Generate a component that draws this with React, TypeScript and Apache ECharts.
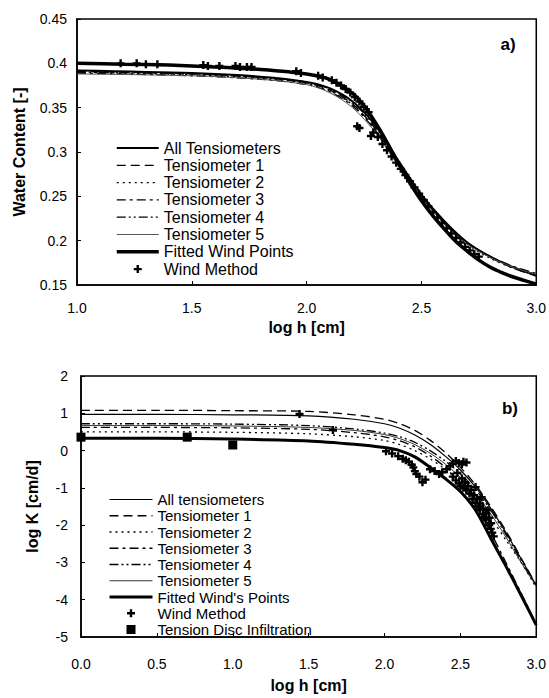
import React, { useEffect, useRef } from "react";
import * as echarts from "echarts";

const FONT = "'Liberation Sans', Arial, sans-serif";

// ---------- Panel a) water content vs log h ----------
const thetaX = [1.0, 1.5, 1.8, 2.0, 2.1, 2.2, 2.3, 2.4, 2.5, 2.6, 2.7, 2.8, 2.9, 3.0];
const thetaAll = [0.392, 0.389, 0.385, 0.379, 0.372, 0.357, 0.33, 0.29, 0.252, 0.222, 0.198, 0.182, 0.17, 0.161];
const thetaT1 = [0.391, 0.388, 0.384, 0.378, 0.37, 0.354, 0.326, 0.287, 0.25, 0.22, 0.197, 0.181, 0.169, 0.16];
const thetaT2 = [0.39, 0.387, 0.383, 0.377, 0.369, 0.353, 0.325, 0.286, 0.249, 0.219, 0.196, 0.18, 0.169, 0.161];
const thetaT3 = [0.389, 0.386, 0.382, 0.376, 0.368, 0.352, 0.324, 0.285, 0.249, 0.22, 0.197, 0.182, 0.171, 0.163];
const thetaT4 = [0.39, 0.388, 0.384, 0.379, 0.371, 0.356, 0.328, 0.289, 0.251, 0.221, 0.198, 0.182, 0.17, 0.162];
const thetaT5 = [0.388, 0.386, 0.382, 0.376, 0.367, 0.35, 0.322, 0.284, 0.248, 0.219, 0.196, 0.181, 0.17, 0.162];
const fitThetaX = [1.0, 1.2, 1.4, 1.6, 1.8, 2.0, 2.1, 2.2, 2.25, 2.3, 2.35, 2.4, 2.45, 2.5, 2.55, 2.6, 2.65, 2.7, 2.75, 2.8, 2.85, 2.9, 2.95, 3.0];
const fitTheta = [0.4, 0.399, 0.398, 0.396, 0.393, 0.388, 0.382, 0.366, 0.352, 0.333, 0.311, 0.287, 0.265, 0.245, 0.228, 0.213, 0.199, 0.188, 0.178, 0.17, 0.164, 0.159, 0.155, 0.151];
const windTheta = [
  [1.19, 0.4], [1.26, 0.4], [1.3, 0.399], [1.35, 0.399], [1.55, 0.398], [1.57, 0.397],
  [1.62, 0.397], [1.69, 0.397], [1.71, 0.396], [1.74, 0.396], [1.76, 0.396], [1.955, 0.391],
  [1.975, 0.389], [2.05, 0.386], [2.07, 0.384], [2.11, 0.381], [2.13, 0.378], [2.15, 0.375],
  [2.17, 0.371], [2.19, 0.367], [2.21, 0.362], [2.23, 0.357], [2.25, 0.351], [2.27, 0.345],
  [2.22, 0.329], [2.23, 0.327], [2.28, 0.318], [2.29, 0.322], [2.31, 0.317], [2.33, 0.309],
  [2.35, 0.302], [2.37, 0.295], [2.39, 0.288], [2.41, 0.281], [2.43, 0.274], [2.45, 0.267],
  [2.47, 0.26], [2.49, 0.253], [2.51, 0.246], [2.53, 0.239], [2.55, 0.232], [2.57, 0.226],
  [2.59, 0.22], [2.61, 0.214], [2.63, 0.208], [2.65, 0.203], [2.67, 0.198], [2.69, 0.193],
  [2.71, 0.189], [2.73, 0.185], [2.75, 0.182],
];

// ---------- Panel b) log K vs log h ----------
const kX = [0, 0.5, 1.0, 1.5, 1.8, 2.0, 2.1, 2.2, 2.3, 2.4, 2.5, 2.6, 2.7, 2.8, 2.9, 3.0];
const kAll = [0.97, 0.97, 0.96, 0.93, 0.84, 0.72, 0.6, 0.42, 0.17, -0.15, -0.52, -0.98, -1.55, -2.2, -2.9, -3.62];
const kT1 = [1.08, 1.08, 1.07, 1.05, 0.96, 0.84, 0.72, 0.54, 0.28, -0.05, -0.45, -0.92, -1.5, -2.15, -2.88, -3.6];
const kT2 = [0.5, 0.5, 0.49, 0.45, 0.37, 0.27, 0.16, 0.0, -0.22, -0.5, -0.85, -1.28, -1.8, -2.4, -3.0, -3.68];
const kT3 = [0.62, 0.62, 0.61, 0.57, 0.48, 0.37, 0.26, 0.1, -0.14, -0.45, -0.9, -1.48, -2.2, -3.0, -3.82, -4.65];
const kT4 = [0.72, 0.72, 0.71, 0.67, 0.58, 0.47, 0.37, 0.22, 0.0, -0.28, -0.62, -1.05, -1.6, -2.25, -2.95, -3.65];
const kT5 = [0.67, 0.67, 0.66, 0.62, 0.54, 0.43, 0.32, 0.16, -0.07, -0.36, -0.72, -1.15, -1.7, -2.32, -3.0, -3.64];
const kFit = [0.33, 0.33, 0.31, 0.26, 0.17, 0.08, 0.0, -0.17, -0.45, -0.75, -1.1, -1.6, -2.35, -3.1, -3.88, -4.68];
const windK = [
  [1.44, 0.98], [1.66, 0.55], [2.01, -0.02], [2.05, -0.08], [2.09, -0.15], [2.12, -0.22],
  [2.14, -0.26], [2.16, -0.3], [2.18, -0.38], [2.19, -0.45], [2.2, -0.55], [2.21, -0.63],
  [2.23, -0.7], [2.25, -0.85], [2.27, -0.78], [2.3, -0.5], [2.33, -0.55], [2.36, -0.63],
  [2.38, -0.58], [2.41, -0.5], [2.43, -0.42], [2.45, -0.35], [2.47, -0.28], [2.49, -0.33],
  [2.51, -0.37], [2.52, -0.3], [2.54, -0.32], [2.45, -0.7], [2.47, -0.8], [2.49, -0.88],
  [2.5, -0.95], [2.52, -1.0], [2.54, -1.06], [2.56, -1.15], [2.58, -1.3], [2.6, -1.4],
  [2.6, -0.98], [2.62, -1.5], [2.63, -1.58], [2.65, -1.7], [2.66, -1.8], [2.67, -1.85],
  [2.69, -2.0], [2.7, -2.1], [2.71, -2.2], [2.64, -1.25], [2.68, -1.6], [2.48, -0.6],
  [2.51, -0.75], [2.53, -0.85], [2.55, -0.95], [2.57, -1.05], [2.59, -1.2], [2.61, -1.3],
  [2.63, -1.42], [2.65, -1.55], [2.67, -1.68], [2.69, -1.8], [2.7, -1.95], [2.72, -2.3],
];
const discK = [[0, 0.36], [0.7, 0.36], [1.0, 0.15]];

const xTicksA = { min: 1, max: 3, interval: 0.5 };
const yTicksA = { min: 0.15, max: 0.45, interval: 0.05 };
const xTicksB = { min: 0, max: 3, interval: 0.5 };
const yTicksB = { min: -5, max: 2, interval: 1 };

const PLUS = "path://M0,0M12,12M4.8,2H7.2V4.8H10V7.2H7.2V10H4.8V7.2H2V4.8H4.8Z";
const SQUARE = "path://M0,0M12,12M1.5,1.5H10.5V10.5H1.5Z";

const zip = (xs: number[], ys: number[]) => xs.map((x, i) => [x, ys[i]]);

const line = (name: string, data: number[][], width: number, type: any, color = "#000") => ({
  name,
  type: "line",
  data,
  smooth: 0.3,
  symbol: "none",
  lineStyle: { color, width, type, cap: "butt" },
  itemStyle: { color },
  z: 2,
});

const lineLegend = (name: string, width: number) => ({ name, itemStyle: { opacity: 0 }, lineStyle: { width } });

const axisCommon = () => ({
  axisLine: { show: true, onZero: false, lineStyle: { color: "#000", width: 1.5 } },
  axisTick: { show: true, inside: true, length: 4, lineStyle: { color: "#000", width: 1 } },
  splitLine: { show: false },
  nameTextStyle: { color: "#000", fontSize: 16, fontWeight: "bold", fontFamily: FONT },
  nameLocation: "middle",
});

const optionA = {
  animation: false,
  backgroundColor: "#fff",
  grid: { left: 77, top: 19, width: 460, height: 266, show: true, borderColor: "#000", borderWidth: 1.5 },
  xAxis: {
    type: "value",
    ...xTicksA,
    ...axisCommon(),
    axisLabel: { color: "#000", fontSize: 14, fontFamily: FONT, margin: 16, formatter: (v: number) => v.toFixed(1) },
    name: "log h [cm]",
    nameGap: 33,
  },
  yAxis: {
    type: "value",
    ...yTicksA,
    ...axisCommon(),
    axisLabel: { color: "#000", fontSize: 14, fontFamily: FONT, margin: 10 },
    name: "Water Content [-]",
    nameGap: 50,
  },
  legend: {
    orient: "vertical",
    left: 115,
    top: 140,
    padding: 0,
    itemWidth: 42,
    itemHeight: 12,
    itemGap: 1.3,
    selectedMode: false,
    lineStyle: { width: "inherit" },
    textStyle: { color: "#000", fontSize: 16, fontFamily: FONT, lineHeight: 16 },
    data: [
      lineLegend("All Tensiometers", 2),
      lineLegend("Tensiometer 1", 1.3),
      lineLegend("Tensiometer 2", 1.3),
      lineLegend("Tensiometer 3", 1.3),
      lineLegend("Tensiometer 4", 1.3),
      lineLegend("Tensiometer 5", 1),
      lineLegend("Fitted Wind Points", 3.5),
      { name: "Wind Method" },
    ],
  },
  graphic: [
    {
      type: "text",
      x: 508,
      y: 44,
      style: { text: "a)", fontSize: 17, fontWeight: "bold", fontFamily: FONT, fill: "#000", align: "center", verticalAlign: "middle" },
    },
  ],
  series: [
    line("All Tensiometers", zip(thetaX, thetaAll), 2, "solid"),
    line("Tensiometer 1", zip(thetaX, thetaT1), 1.3, [9, 5]),
    line("Tensiometer 2", zip(thetaX, thetaT2), 1.3, [2, 4]),
    line("Tensiometer 3", zip(thetaX, thetaT3), 1.3, [9, 4, 3, 4]),
    line("Tensiometer 4", zip(thetaX, thetaT4), 1.3, [9, 3, 2, 3, 2, 3]),
    line("Tensiometer 5", zip(thetaX, thetaT5), 1, "solid", "#555"),
    line("Fitted Wind Points", zip(fitThetaX, fitTheta), 3.5, "solid"),
    {
      name: "Wind Method",
      type: "scatter",
      data: windTheta,
      symbol: PLUS,
      symbolSize: 12,
      itemStyle: { color: "#000", opacity: 1 },
      z: 3,
    },
  ],
};

const optionB = {
  animation: false,
  backgroundColor: "#fff",
  grid: { left: 81, top: 27, width: 456, height: 268, show: true, borderColor: "#000", borderWidth: 1.5 },
  xAxis: {
    type: "value",
    ...xTicksB,
    ...axisCommon(),
    axisLabel: { color: "#000", fontSize: 14, fontFamily: FONT, margin: 20, formatter: (v: number) => v.toFixed(1) },
    name: "log h [cm]",
    nameGap: 40,
  },
  yAxis: {
    type: "value",
    ...yTicksB,
    ...axisCommon(),
    axisLabel: { color: "#000", fontSize: 14, fontFamily: FONT, margin: 13 },
    name: "log K [cm/d]",
    nameGap: 41,
  },
  legend: {
    orient: "vertical",
    left: 108,
    top: 143,
    padding: 0,
    itemWidth: 43,
    itemHeight: 12,
    itemGap: 1.25,
    selectedMode: false,
    lineStyle: { width: "inherit" },
    textStyle: { color: "#000", fontSize: 15, fontFamily: FONT, lineHeight: 15 },
    data: [
      lineLegend("All tensiometers", 1.2),
      lineLegend("Tensiometer 1", 1.3),
      lineLegend("Tensiometer 2", 1.3),
      lineLegend("Tensiometer 3", 1.3),
      lineLegend("Tensiometer 4", 1.3),
      lineLegend("Tensiometer 5", 1),
      lineLegend("Fitted Wind's Points", 3),
      { name: "Wind Method" },
      { name: "Tension Disc Infiltration" },
    ],
  },
  graphic: [
    {
      type: "text",
      x: 510,
      y: 59,
      style: { text: "b)", fontSize: 17, fontWeight: "bold", fontFamily: FONT, fill: "#000", align: "center", verticalAlign: "middle" },
    },
  ],
  series: [
    line("All tensiometers", zip(kX, kAll), 1.2, "solid"),
    line("Tensiometer 1", zip(kX, kT1), 1.3, [9, 5]),
    line("Tensiometer 2", zip(kX, kT2), 1.3, [2, 4]),
    line("Tensiometer 3", zip(kX, kT3), 1.3, [9, 4, 3, 4]),
    line("Tensiometer 4", zip(kX, kT4), 1.3, [9, 3, 2, 3, 2, 3]),
    line("Tensiometer 5", zip(kX, kT5), 1, "solid", "#333"),
    line("Fitted Wind's Points", zip(kX, kFit), 3, "solid"),
    {
      name: "Wind Method",
      type: "scatter",
      data: windK,
      symbol: PLUS,
      symbolSize: 12,
      itemStyle: { color: "#000", opacity: 1 },
      z: 3,
    },
    {
      name: "Tension Disc Infiltration",
      type: "scatter",
      data: discK,
      symbol: SQUARE,
      symbolSize: 12,
      itemStyle: { color: "#000", opacity: 1 },
      z: 4,
    },
  ],
};

function Chart({ option, top }: { option: any; top: number }) {
  const ref = useRef<HTMLDivElement>(null);
  useEffect(() => {
    const chart = echarts.init(ref.current!, null, { renderer: "svg" });
    chart.setOption(option);
    return () => chart.dispose();
  }, []);
  return <div ref={ref} style={{ position: "absolute", left: 0, top, width: 549, height: 349 }} />;
}

export default function App() {
  return (
    <div style={{ position: "absolute", left: 0, top: 0, width: 549, height: 698, background: "#fff" }}>
      <Chart option={optionA} top={0} />
      <Chart option={optionB} top={349} />
    </div>
  );
}
